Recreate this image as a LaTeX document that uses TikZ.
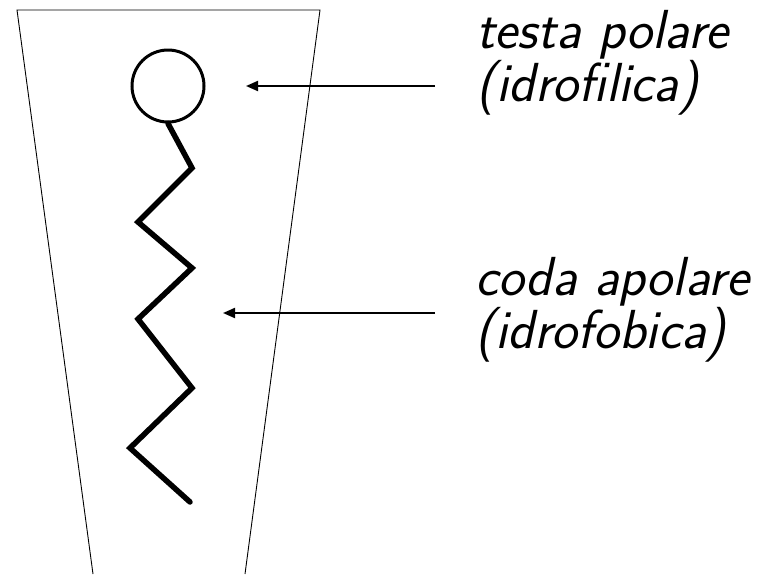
\documentclass[tikz,border=0pt]{standalone}
\usetikzlibrary{positioning, arrows.meta}

\begin{document}
\begin{tikzpicture}[
    x=1pt, y=-1pt,
    cup/.style={line width=0.9pt},
    headball/.style={draw, circle, line width=3pt, minimum size=72pt, inner sep=0pt},
    tailchain/.style={line width=5.5pt, line cap=round, line join=miter},
    pointer/.style={-{Triangle[length=12pt, width=10pt]}, line width=2pt},
    caption/.style={inner sep=0pt, anchor=base west, align=left,
                    font=\fontsize{55}{48}\selectfont\sffamily\slshape},
  ]
  \useasboundingbox (0,0) rectangle (776,574);

  % open trapezoid around the molecule
  \draw[cup] (93,574) -- (17,10) -- (320,10) -- (245,574);

  % polar head and hydrocarbon tail
  \node[headball] (head) at (168,86) {};
  \draw[tailchain] (head.south) -- (192,168) -- (138,222) -- (192,268)
    -- (138,319) -- (192,388) -- (130,448) -- (190,502);

  % labels (anchored on the baseline of the lower line)
  \node[caption] (testa) at (476,101) {testa polare\\(idrofilica)};
  \node[caption] (coda) at (475,348) {coda apolare\\(idrofobica)};

  \coordinate (testaend) at (435,86);
  \coordinate (testatip) at (246,86);
  \coordinate (codaend) at (435,313);
  \coordinate (codatip) at (223,313);
  \draw[pointer] (testaend) -- (testatip);
  \draw[pointer] (codaend) -- (codatip);
\end{tikzpicture}
\end{document}
